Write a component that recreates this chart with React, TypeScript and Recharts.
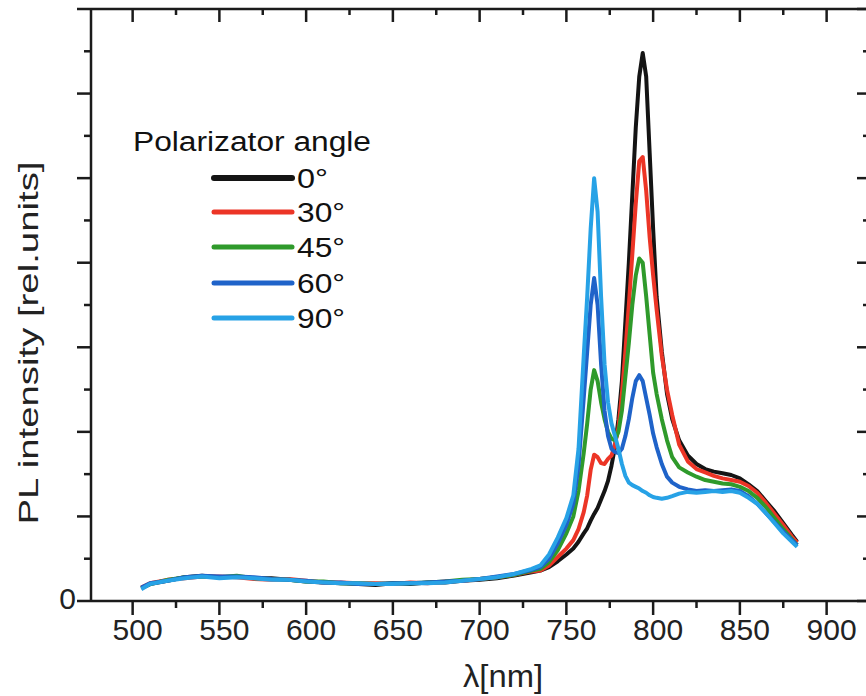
import { LineChart, Line, XAxis, YAxis } from "recharts";

// wavelength grid in nm, denser around the two emission peaks
const WAVELENGTH = [
  505, 510, 520, 530, 540, 550, 560, 570, 580, 590,
  600, 610, 620, 630, 640, 650, 660, 670, 680, 690,
  700, 710, 720, 730, 735, 740, 745, 750, 754, 757,
  760, 762, 764, 766, 768, 770, 772, 774, 776, 778,
  780, 782, 784, 786, 788, 790, 792, 794, 796, 798,
  800, 802, 805, 808, 811, 815, 820, 825, 830, 835,
  840, 845, 850, 855, 860, 865, 870, 875, 880, 883,
];

const PL_0 = [
  0.15, 0.2, 0.24, 0.28, 0.3, 0.28, 0.29, 0.27, 0.27, 0.25,
  0.23, 0.22, 0.21, 0.2, 0.19, 0.21, 0.2, 0.22, 0.22, 0.24,
  0.25, 0.27, 0.3, 0.34, 0.36, 0.4, 0.47, 0.55, 0.62, 0.7,
  0.8, 0.86, 0.95, 1.03, 1.1, 1.2, 1.3, 1.42, 1.6, 1.82,
  2.15, 2.6, 3.3, 4.0, 4.8, 5.6, 6.2, 6.48, 6.2, 5.3,
  4.4, 3.6, 2.95, 2.45, 2.15, 1.9, 1.72, 1.62, 1.56, 1.53,
  1.51, 1.49, 1.45, 1.38, 1.3, 1.18, 1.06, 0.92, 0.78, 0.7,
];

const PL_30 = [
  0.16, 0.21, 0.25, 0.27, 0.29, 0.29, 0.28, 0.26, 0.25, 0.26,
  0.24, 0.22, 0.22, 0.21, 0.21, 0.2, 0.22, 0.21, 0.23, 0.24,
  0.26, 0.28, 0.31, 0.35, 0.36, 0.42, 0.52, 0.62, 0.72, 0.85,
  1.05, 1.25, 1.55, 1.73, 1.7, 1.63, 1.62, 1.68, 1.72, 1.85,
  2.05, 2.45, 2.95, 3.5, 4.1, 4.7, 5.2, 5.25, 4.85, 4.3,
  3.85, 3.45, 2.9, 2.5, 2.2, 1.85, 1.65, 1.56, 1.52, 1.48,
  1.45, 1.43, 1.41, 1.36, 1.28, 1.16, 1.03, 0.9, 0.76, 0.69,
];

const PL_45 = [
  0.15, 0.2, 0.25, 0.28, 0.29, 0.28, 0.3, 0.27, 0.26, 0.25,
  0.23, 0.23, 0.21, 0.21, 0.2, 0.21, 0.21, 0.22, 0.23, 0.25,
  0.26, 0.28, 0.31, 0.36, 0.38, 0.46, 0.6, 0.8, 1.0, 1.3,
  1.75, 2.1, 2.5, 2.73, 2.6, 2.35, 2.15, 2.0, 1.92, 1.9,
  2.0, 2.25, 2.65, 3.05, 3.5, 3.85, 4.05, 4.0, 3.6, 3.15,
  2.7, 2.45, 2.15, 1.9, 1.7, 1.58, 1.52, 1.47, 1.43, 1.41,
  1.39, 1.38, 1.35, 1.3, 1.22, 1.11, 0.98, 0.85, 0.73, 0.66,
];

const PL_60 = [
  0.16, 0.21, 0.24, 0.28, 0.3, 0.29, 0.29, 0.28, 0.26, 0.25,
  0.24, 0.22, 0.22, 0.2, 0.2, 0.21, 0.21, 0.22, 0.23, 0.24,
  0.26, 0.29, 0.32, 0.37, 0.4, 0.5, 0.68, 0.9, 1.15, 1.6,
  2.4, 2.95, 3.5, 3.82, 3.5, 2.8, 2.25, 1.95, 1.8, 1.76,
  1.75, 1.8, 1.95, 2.15, 2.4, 2.6, 2.67, 2.6, 2.4, 2.2,
  1.98, 1.82, 1.62, 1.47, 1.4, 1.35, 1.32, 1.3, 1.31, 1.3,
  1.31, 1.32, 1.3, 1.24, 1.15, 1.04, 0.93, 0.82, 0.72, 0.66,
];

const PL_90 = [
  0.14, 0.2, 0.24, 0.27, 0.29, 0.27, 0.28, 0.27, 0.25, 0.25,
  0.23, 0.22, 0.21, 0.21, 0.2, 0.2, 0.21, 0.21, 0.22, 0.24,
  0.26, 0.28, 0.32, 0.38, 0.42, 0.55, 0.75, 0.98, 1.25, 1.8,
  2.9, 3.6, 4.4, 5.0, 4.6, 3.6, 2.8, 2.35, 2.1, 1.95,
  1.8, 1.62, 1.48, 1.4, 1.37, 1.35, 1.33, 1.3, 1.28, 1.25,
  1.23, 1.22, 1.21, 1.22, 1.24, 1.27, 1.29, 1.28, 1.29, 1.3,
  1.29, 1.3, 1.28, 1.22, 1.15, 1.04, 0.92, 0.8, 0.7, 0.64,
];

const SERIES = [
  { key: "a0", label: "0°", color: "#141414", values: PL_0 },
  { key: "a30", label: "30°", color: "#ec3526", values: PL_30 },
  { key: "a45", label: "45°", color: "#2f9a2b", values: PL_45 },
  { key: "a60", label: "60°", color: "#1f63c9", values: PL_60 },
  { key: "a90", label: "90°", color: "#27a2e6", values: PL_90 },
];

const X_TICKS = [500, 525, 550, 575, 600, 625, 650, 675, 700, 725, 750, 775, 800, 825, 850, 875, 900];
const Y_TICKS = [0, 0.5, 1, 1.5, 2, 2.5, 3, 3.5, 4, 4.5, 5, 5.5, 6, 6.5, 7];

const INK = "#1b1b1b";
const FONT = "'Liberation Sans', Arial, sans-serif";
const X_DOMAIN: [number, number] = [476, 925];
const CHART_W = 874;
const PLOT_LEFT = 91;
const PLOT_RIGHT = 870; // just outside the 866px window, like the cropped original

const data = WAVELENGTH.map((w, i) => {
  const row: Record<string, number> = { w };
  SERIES.forEach(s => (row[s.key] = s.values[i]));
  return row;
});

interface TickProps {
  x?: number;
  y?: number;
  payload?: { value: number };
}

function BottomTick({ x = 0, y = 0, payload }: TickProps) {
  const v = payload?.value ?? 0;
  const major = v % 50 === 0;
  return (
    <g>
      <line x1={x} x2={x} y1={y} y2={y + (major ? 14 : 7)} stroke={INK} strokeWidth={2.5} />
      {major && (
        <text x={x + 5} y={y + 39} textAnchor="middle" fontSize={30} fill="#222" fontFamily={FONT}>
          {v}
        </text>
      )}
    </g>
  );
}

function TopTick({ x = 0, y = 0, payload }: TickProps) {
  const major = (payload?.value ?? 0) % 50 === 0;
  return <line x1={x} x2={x} y1={y} y2={y + (major ? 13 : 6)} stroke={INK} strokeWidth={2.5} />;
}

// left ticks point outwards; the matching right-hand ticks point inwards
function SideTicks({ x = 0, y = 0, payload }: TickProps) {
  const v = payload?.value ?? 0;
  const major = Number.isInteger(v);
  const right = x + (PLOT_RIGHT - PLOT_LEFT);
  return (
    <g>
      <line x1={x} x2={x - (major ? 14 : 7)} y1={y} y2={y} stroke={INK} strokeWidth={2.5} />
      <line x1={right} x2={right - (major ? 13 : 7)} y1={y} y2={y} stroke={INK} strokeWidth={2.5} />
      {v === 0 && (
        <text x={x - 15} y={y + 8} textAnchor="end" fontSize={30} fill="#222" fontFamily={FONT}>
          0
        </text>
      )}
    </g>
  );
}

function LegendOverlay() {
  const rows = [178, 212, 247, 283, 318];
  return (
    <svg width={866} height={696} style={{ position: "absolute", left: 0, top: 0, pointerEvents: "none" }}>
      <text x={133} y={151} fontSize={27} fill="#111" fontFamily={FONT} textLength={238} lengthAdjust="spacingAndGlyphs">
        Polarizator angle
      </text>
      {SERIES.map((s, i) => (
        <g key={s.key}>
          <line x1={214} x2={292} y1={rows[i]} y2={rows[i]} stroke={s.color} strokeWidth={i === 0 ? 6 : 5} strokeLinecap="round" />
          <text
            x={297}
            y={rows[i] + 10}
            fontSize={27}
            fill="#111"
            fontFamily={FONT}
            textLength={i === 0 ? 31 : 48}
            lengthAdjust="spacingAndGlyphs"
          >
            {s.label}
          </text>
        </g>
      ))}
      <text
        transform="translate(38,343) rotate(-90)"
        textAnchor="middle"
        fontSize={28}
        fill="#222"
        fontFamily={FONT}
        textLength={363}
        lengthAdjust="spacingAndGlyphs"
      >
        PL intensity [rel.units]
      </text>
      <text x={503} y={687} textAnchor="middle" fontSize={31} fill="#222" fontFamily={FONT} textLength={80} lengthAdjust="spacingAndGlyphs">
        λ[nm]
      </text>
    </svg>
  );
}

export default function App() {
  return (
    <div style={{ position: "absolute", left: 0, top: 0, width: 866, height: 696, overflow: "hidden", background: "#fff" }}>
      <div style={{ width: CHART_W, height: 696 }}>
        <LineChart
          width={CHART_W}
          height={696}
          data={data}
          margin={{ top: 0, right: CHART_W - PLOT_RIGHT, bottom: 0, left: 0 }}
        >
          <XAxis
            xAxisId="b"
            dataKey="w"
            type="number"
            domain={X_DOMAIN}
            allowDataOverflow
            ticks={X_TICKS}
            interval={0}
            height={95}
            tickSize={0}
            tickMargin={0}
            tickLine={false}
            axisLine={{ stroke: INK, strokeWidth: 2.5 }}
            tick={(p: TickProps) => <BottomTick {...p} />}
          />
          <XAxis
            xAxisId="t"
            orientation="top"
            dataKey="w"
            type="number"
            domain={X_DOMAIN}
            allowDataOverflow
            ticks={X_TICKS}
            interval={0}
            height={9}
            tickSize={0}
            tickMargin={0}
            tickLine={false}
            axisLine={{ stroke: INK, strokeWidth: 2.5 }}
            tick={(p: TickProps) => <TopTick {...p} />}
          />
          <YAxis
            yAxisId="l"
            type="number"
            domain={[0, 7]}
            allowDataOverflow
            ticks={Y_TICKS}
            interval={0}
            width={PLOT_LEFT}
            tickSize={0}
            tickMargin={0}
            tickLine={false}
            axisLine={{ stroke: INK, strokeWidth: 2.5 }}
            tick={(p: TickProps) => <SideTicks {...p} />}
          />
          {SERIES.map(s => (
            <Line
              key={s.key}
              xAxisId="b"
              yAxisId="l"
              dataKey={s.key}
              type="linear"
              stroke={s.color}
              strokeWidth={4}
              strokeLinejoin="round"
              dot={false}
              isAnimationActive={false}
            />
          ))}
        </LineChart>
      </div>
      <LegendOverlay />
    </div>
  );
}
